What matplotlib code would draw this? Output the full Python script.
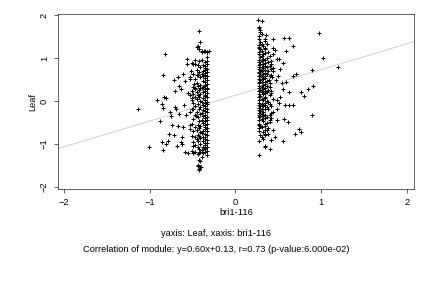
import numpy as np
import matplotlib
matplotlib.use("Agg")
import matplotlib.pyplot as plt

plt.rcParams["font.family"] = ["Liberation Sans", "DejaVu Sans"]

# points, grouped by approximate x column
left_cols = {
    -0.33: [1.14, 1.03, 0.92, 0.86, 0.75, 0.68, 0.57, 0.49, 0.40, 0.31, 0.27, 0.18, 0.09, -0.02,
            -0.08, -0.19, -0.26, -0.37, -0.45, -0.53, -0.64, -0.71, -0.80, -0.91, -0.99, -1.07,
            -1.16, -1.27],
    -0.35: [0.90, 0.81, 0.72, 0.60, 0.53, 0.44, 0.35, 0.22, 0.13, 0.02, -0.11, -0.24, -0.33,
            -0.48, -0.57, -0.66, -0.78, -0.85, -0.97, -1.10, -1.19],
    -0.36: [1.16, 0.77, 0.65, 0.36, 0.28, 0.11, -0.05, -0.16, -0.40, -0.61, -0.89, -1.02, -1.13],
    -0.38: [0.84, 0.70, 0.58, 0.46, 0.33, 0.20, 0.06, -0.09, -0.21, -0.35, -0.52, -0.69, -0.83,
            -0.94, -1.08, -1.22],
    -0.39: [1.14, 0.96, 0.63, 0.29, -0.02, -0.28, -0.44, -0.75, -1.15, -1.30],
    -0.41: [0.78, 0.55, 0.38, 0.31, 0.17, 0.00, -0.14, -0.30, -0.58, -0.72, -0.87, -1.00, -1.19,
            -1.40, -1.55],
    -0.42: [1.20, 0.94, 0.67, 0.25, 0.08, -0.20, -0.46, -0.63, -0.82, -1.11, -1.58],
    -0.44: [1.27, 0.83, 0.60, 0.34, 0.13, -0.07, -0.38, -0.56, -0.79, -0.93, -1.07, -1.24, -1.52],
    -0.45: [0.72, 0.42, 0.21, 0.04, -0.25, -0.68, -0.88],
    -0.47: [0.87, 0.50, 0.30, 0.10, -0.12, -0.32, -0.60, -0.84, -1.02, -1.20],
    -0.49: [0.62, 0.33, 0.16, -0.05, -0.42, -0.71, -0.95, -1.22],
    -0.51: [0.88, 0.24, 0.07, -0.18, -0.53, -0.81, -1.16],
    -0.53: [0.55, 0.14, -0.27, -0.66],
}
right_cols = {
    0.27: [1.72, 1.52, 1.30, 1.22, 1.08, 0.96, 0.83, 0.75, 0.64, 0.52, 0.41, 0.30, 0.17, 0.03,
           -0.09, -0.21, -0.33, -0.44, -0.57, -0.70],
    0.28: [1.45, 1.26, 1.14, 0.90, 0.78, 0.68, 0.57, 0.45, 0.35, 0.22, 0.08, -0.04, -0.16, -0.29,
           -0.38, -0.53, -0.62],
    0.29: [1.66, 1.38, 1.20, 1.02, 0.87, 0.72, 0.60, 0.48, 0.26, 0.12, -0.11, -0.24, -0.36, -0.58,
           -0.79],
    0.31: [1.55, 1.32, 1.17, 1.05, 0.93, 0.80, 0.70, 0.55, 0.43, 0.33, 0.20, 0.05, -0.07, -0.18,
           -0.30, -0.42, -0.60, -0.83],
    0.32: [1.28, 1.10, 0.98, 0.85, 0.76, 0.63, 0.50, 0.38, 0.27, 0.15, 0.01, -0.13, -0.26, -0.35,
           -0.48, -0.72, -0.88],
    0.34: [1.40, 1.24, 1.12, 0.89, 0.66, 0.54, 0.40, 0.29, 0.18, 0.07, -0.06, -0.20, -0.41, -0.55,
           -0.68, -0.80, -1.07],
    0.35: [1.20, 0.95, 0.82, 0.72, 0.58, 0.45, 0.23, 0.10, -0.10, -0.33, -0.58, -0.77],
    0.37: [1.33, 1.00, 0.78, 0.62, 0.47, 0.34, 0.20, 0.00, -0.15, -0.37, -0.52, -0.67],
    0.38: [1.14, 0.90, 0.70, 0.25, -0.03, -0.19, -0.62],
    0.40: [1.05, 0.82, 0.58, 0.42, 0.13, -0.08, -0.32, -0.45],
    0.42: [0.94, 0.74, 0.60, 0.22, -0.12, -0.40],
    0.44: [1.10, 0.76, 0.05, -0.25],
}

# scattered points around the two columns
outlier_x = [-1.14, -1.01, -0.91, -0.88, -0.86, -0.85, -0.85, -0.84, -0.82, -0.83, -0.81, -0.86,
             -0.81, -0.79, -0.77, -0.74, -0.75, -0.76, -0.72, -0.72, -0.70, -0.70, -0.69, -0.68,
             -0.67, -0.66, -0.67, -0.66, -0.64, -0.64, -0.62, -0.62, -0.61, -0.60, -0.61, -0.59,
             -0.59, -0.58, -0.57, -0.56, -0.55, -0.55, -0.53, -0.53, -0.52, -0.51, -0.50, -0.50,
             -0.49, -0.48, -0.47, -0.47, -0.46, -0.45, -0.45, -0.43, -0.43, -0.44, -0.43, -0.40,
             -0.42, -0.41, -0.42, -0.39, -0.37, -0.33, -0.31,
             0.26, 0.31, 0.28, 0.29, 0.28, 0.28, 0.34, 0.40, 0.36, 0.35, 0.44, 0.46, 0.57, 0.63,
             0.67, 0.59, 0.97, 1.02, 1.19, 0.89, 0.71, 0.67, 0.59, 0.56, 0.63, 0.77, 0.80, 0.85,
             0.90, 0.89, 0.63, 0.67, 0.58, 0.57, 0.61, 0.69, 0.74, 0.77, 0.56, 0.51, 0.52, 0.54,
             0.50, 0.52, 0.56, 0.51, 0.48, 0.44, 0.48, 0.48, 0.44, 0.46, 0.42, 0.38, 0.48, 0.42,
             0.40, 0.44, 0.43, 0.47, 0.41, 0.41, 0.40, 0.39]
outlier_y = [-0.18, -1.08, 0.01, -0.48, -0.07, 0.61, -1.15, -0.16, 1.10, 0.09, 0.06, -0.96,
             -1.01, -0.93, -0.76, -0.56, -0.36, -0.27, -0.79, 0.49, 0.24, -0.14, -0.20, -1.04,
             0.56, 0.35, -0.59, -0.30, 0.27, -0.96, -1.00, -0.84, 0.62, -0.10, -0.61, -1.19,
             0.46, -0.33, 0.97, 0.85, 0.18, -1.21, 0.52, -0.56, 0.70, 0.03, 0.85, -0.20,
             -1.06, 0.40, 0.96, 0.27, -0.35, 0.60, 1.26, -1.21, -1.37, -1.50, -1.60, -1.54,
             1.63, 1.36, 1.20, 1.15, 1.15, 1.14, 1.17,
             1.88, 1.86, 1.69, 1.61, -1.27, -0.94, -1.06, -1.13, 1.54, 1.43, 1.44, 1.19, 1.46, 1.46,
             1.28, 1.17, 1.59, 0.99, 0.79, 0.72, 0.63, 0.58, 0.44, 0.27, 0.21, 0.21, 0.11, 0.27,
             0.35, -0.34, -0.10, -0.10, -0.10, -0.42, -0.50, -0.76, -0.66, -0.73, -0.94, -0.05, 0.10, 0.41,
             0.57, 0.74, 0.88, 0.97, 0.97, 0.69, -0.20, -0.44, -0.67, -0.83, -0.90, -0.78, 0.03, 0.18,
             0.32, 1.23, 0.55, 0.49, 0.86, -0.28, -0.50, 0.49]

slope, intercept = 0.60, 0.13

xs, ys = [], []
for cols in (left_cols, right_cols):
    for cx, vals in cols.items():
        xs += [cx] * len(vals)
        ys += vals
xs += outlier_x
ys += outlier_y

FS = 9.3
fig = plt.figure(figsize=(6, 4), dpi=72)
ax = fig.add_axes([0.134, 0.344, 0.824, 0.607])
ax.plot(xs, ys, "+", color="black", markersize=4.6, markeredgewidth=1.0)
ax.axline((0, intercept), slope=slope, color="#c8c8c8", linewidth=0.8, zorder=0)

ax.set_xlim(-2.07, 2.08)
ax.set_ylim(-2.05, 2.02)
ax.set_xticks([-2, -1, 0, 1, 2])
ax.set_yticks([-2, -1, 0, 1, 2])
ax.tick_params(labelsize=FS, length=4, width=0.6, pad=5)
for lab in ax.get_yticklabels():
    lab.set_rotation(90)
    lab.set_va("center")
for s in ax.spines.values():
    s.set_linewidth(0.6)

ax.set_xlabel("bri1-116", fontsize=FS, labelpad=1)
ax.set_ylabel("Leaf", fontsize=FS, labelpad=3)

fig.text(0.5, 1 - 234 / 288, "yaxis: Leaf, xaxis: bri1-116", ha="center", va="center", fontsize=FS)
fig.text(0.5, 1 - 250 / 288, "Correlation of module: y=0.60x+0.13, r=0.73 (p-value:6.000e-02)",
         ha="center", va="center", fontsize=FS)

fig.savefig("out.png", dpi=72)
